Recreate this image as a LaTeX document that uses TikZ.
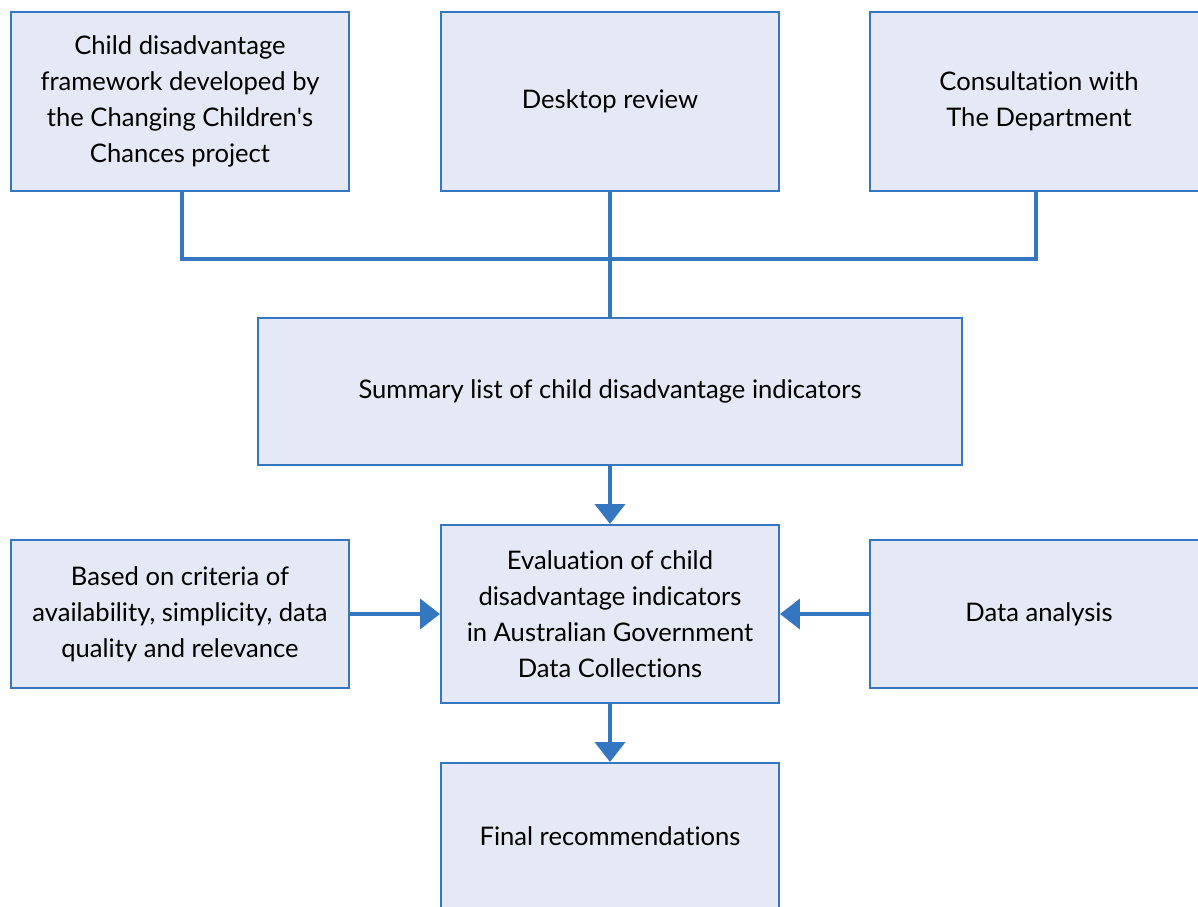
\documentclass[tikz,border=0pt]{standalone}
\usepackage{fontspec}
\setmainfont[Ligatures={TeX,NoCommon}]{Lato}
\usepackage{xcolor}
\usepackage{tikz}
\usetikzlibrary{arrows.meta}

\definecolor{boxfill}{HTML}{E5E9F5}
\definecolor{boxline}{HTML}{3476C0}

\begin{document}
\begin{tikzpicture}
        \useasboundingbox (0,0) rectangle (29.95,-22.65);
        \begin{scope}[every node/.style = {rectangle, draw=boxline, fill=boxfill, line width=1.4pt,
                align=center, inner sep=0pt, minimum width=8.45cm,
                font=\fontsize{18.2}{25.6}\selectfont}]
            \node[minimum height=4.475cm] (CF) at (4.5,-2.5375) {Child disadvantage\\framework developed by\\the Changing Children\textquotesingle s\\Chances project};
            \node[minimum height=4.475cm] (DR) at (15.25,-2.5375) {Desktop review};
            \node[minimum height=4.475cm] (CD) at (25.975,-2.5375) {Consultation with\\The Department};
            \node[minimum width=17.6cm, minimum height=3.675cm] (SL) at (15.25,-9.7875) {Summary list of child disadvantage indicators};
            \node[minimum height=4.45cm] (EV) at (15.25,-15.35) {Evaluation of child\\disadvantage indicators\\in Australian Government\\Data Collections};
            \node[minimum height=3.7cm] (BC) at (4.5,-15.35) {Based on criteria of\\availability, simplicity, data\\quality and relevance};
            \node[minimum height=3.7cm] (DA) at (25.975,-15.35) {Data analysis};
            \node[minimum height=3.675cm] (FR) at (15.25,-20.9125) {Final recommendations};
        \end{scope}
        \coordinate (J) at (15.25,-6.475);
        \begin{scope}[boxline, line width=2.8pt]
            \draw ([xshift=0.05cm]CF.south) |- (J) -| ([xshift=-0.075cm]CD.south);
            \path[-] (DR) edge (SL);
            \path[-{Triangle[length=0.5cm,width=0.75cm]}] (SL) edge (EV);
            \path[-{Triangle[length=0.5cm,width=0.75cm]}] (EV) edge (FR);
            \path[-{Triangle[length=0.5cm,width=0.75cm]}] (BC) edge (EV);
            \path[-{Triangle[length=0.5cm,width=0.75cm]}] (DA) edge (EV);
        \end{scope}
    \end{tikzpicture}
\end{document}
